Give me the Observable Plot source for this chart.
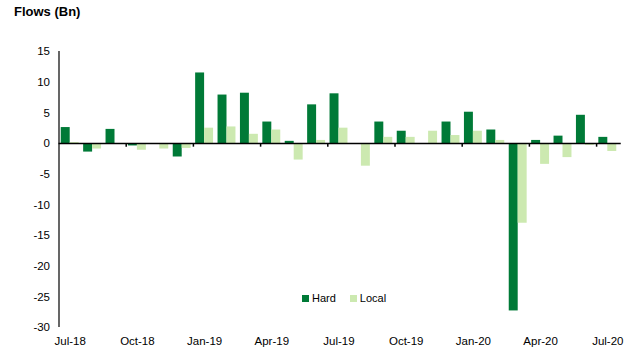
<!DOCTYPE html>
<html>
<head>
<meta charset="utf-8">
<script src="https://cdn.jsdelivr.net/npm/d3@7"></script>
<script src="https://cdn.jsdelivr.net/npm/@observablehq/plot@0.6"></script>
<style>
  html, body { margin: 0; padding: 0; background: #fff; }
  #wrap { position: relative; width: 637px; height: 354px; font-family: "Liberation Sans", Arial, sans-serif; }
  #title { position: absolute; left: 14px; top: 4px; font-size: 13px; font-weight: bold; color: #000; }
  #legend { position: absolute; left: 302px; top: 292px; font-size: 11px; color: #000; display: flex; gap: 14px; }
  #legend span.sw { display: inline-block; width: 7px; height: 7px; margin-right: 3px; vertical-align: 0px; }
</style>
</head>
<body>
<div id="wrap">
  <div id="chart"></div>
  <div id="title">Flows (Bn)</div>
  <div id="legend"></div>
</div>
<script>
const months = ["Jul-18","Aug-18","Sep-18","Oct-18","Nov-18","Dec-18","Jan-19","Feb-19","Mar-19","Apr-19","May-19","Jun-19",
  "Jul-19","Aug-19","Sep-19","Oct-19","Nov-19","Dec-19","Jan-20","Feb-20","Mar-20","Apr-20","May-20","Jun-20","Jul-20"];
const hard  = [2.6, -1.4, 2.3, -0.4, 0, -2.2, 11.5, 7.9, 8.2, 3.5, 0.35, 6.3,
  8.1, 0, 3.5, 2.0, 0, 3.5, 5.1, 2.2, -27.3, 0.5, 1.2, 4.6, 1.0];
const local = [0.15, -0.9, 0, -1.1, -0.9, -0.8, 2.5, 2.7, 1.5, 2.2, -2.7, 0.5,
  2.5, -3.7, 1.0, 1.0, 2.0, 1.3, 2.0, 0.5, -13.0, -3.4, -2.3, -0.3, -1.3];
const series = ["Hard", "Local"];
const colors = ["#007A37", "#CCE9B0"];
const yTicks = [15, 10, 5, 0, -5, -10, -15, -20, -25, -30];

const rows = [];
months.forEach((m, i) => {
  rows.push({i, month: m, series: "Hard", value: hard[i]});
  rows.push({i, month: m, series: "Local", value: local[i]});
});
const pad = 0.1, bw = 0.4;
const labelIdx = months.map((m, i) => i).filter(i => i % 3 === 0);
const boundaryIdx = months.map((m, i) => i).filter(i => i > 0 && i % 3 === 0);

const chart = Plot.plot({
  width: 637,
  height: 354,
  marginTop: 51,
  marginBottom: 27,
  marginLeft: 58.5,
  marginRight: 18.5,
  style: {fontFamily: "'Liberation Sans', Arial, sans-serif", fontSize: "11px", color: "#000", background: "#fff"},
  x: {domain: [0, months.length], axis: null},
  y: {domain: [-30, 15], axis: null},
  color: {domain: series, range: colors},
  marks: [
    Plot.rectY(rows, {
      x1: d => d.i + pad + (d.series === "Hard" ? 0 : bw),
      x2: d => d.i + pad + (d.series === "Hard" ? bw : 2 * bw),
      y1: 0,
      y2: "value",
      fill: "series"
    }),
    Plot.ruleY([0], {x1: 0, x2: months.length + 0.1, stroke: "#000", strokeWidth: 1.5}),
    Plot.ruleX(boundaryIdx, {x: d => d, y1: 0, y2: -0.6, stroke: "#000", strokeWidth: 1.5}),
    Plot.ruleX([0], {stroke: "#000", strokeWidth: 1.2}),
    Plot.axisY(yTicks, {anchor: "left", tickSize: 0, tickPadding: 9, fontSize: 11.5, label: null,
      tickFormat: d => String(d)}),
    Plot.axisX(labelIdx.map(i => i + 0.5), {anchor: "bottom", tickSize: 0, tickPadding: 9, fontSize: 11.5, label: null,
      tickFormat: d => months[Math.round(d - 0.5)]})
  ]
});
document.getElementById("chart").appendChild(chart);

const legend = document.getElementById("legend");
series.forEach((s, k) => {
  const item = document.createElement("div");
  const sw = document.createElement("span");
  sw.className = "sw";
  sw.style.background = colors[k];
  item.appendChild(sw);
  item.appendChild(document.createTextNode(s));
  legend.appendChild(item);
});
</script>
</body>
</html>
